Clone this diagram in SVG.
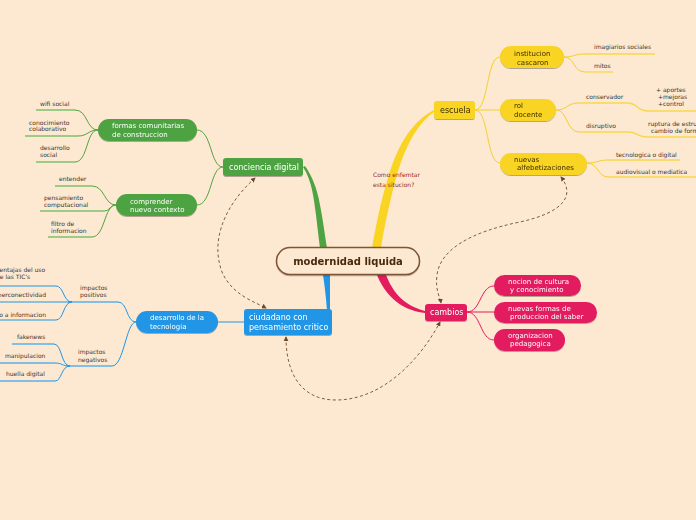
<svg xmlns="http://www.w3.org/2000/svg" width="696" height="520" viewBox="0 0 696 520">
<style>
text{font-family:"DejaVu Sans","Liberation Sans",sans-serif}
.leaf{font-size:6px;fill:#3a3430}
.pw{font-size:7px;fill:#ffffff}
.py{font-size:7px;fill:#3b2c05}
.nw{font-size:8px;fill:#ffffff}
.ny{font-size:8px;fill:#3b2c05}
.g{fill:none;stroke:#52a445;stroke-width:1}
.gl{fill:none;stroke:#7cc06a;stroke-width:1.5}
.b{fill:none;stroke:#2196e6;stroke-width:1}
.bl{fill:none;stroke:#5ab0ee;stroke-width:1.5}
.y{fill:none;stroke:#f6d02a;stroke-width:1}
.yl{fill:none;stroke:#f8d84a;stroke-width:1.3}
.p{fill:none;stroke:#e31b5f;stroke-width:1}
.dash{fill:none;stroke:#7d5e40;stroke-width:1;stroke-dasharray:3 2.5;marker-start:url(#ah);marker-end:url(#ah)}
.shadow{filter:url(#sh)}
</style>
<defs>
<filter id="sh" x="-10%" y="-20%" width="120%" height="150%">
<feDropShadow dx="0" dy="1" stdDeviation="0.7" flood-color="#000" flood-opacity="0.3"/>
</filter>
<marker id="ah" viewBox="0 0 6 6" refX="5" refY="3" markerWidth="5" markerHeight="5" orient="auto-start-reverse" markerUnits="userSpaceOnUse">
<path d="M0,0 L6,3 L0,6 Z" fill="#6b4a2c"/>
</marker>
</defs>
<rect x="0" y="0" width="696" height="520" fill="#fde8d1"/>

<g id="connectors">
<path d="M303,167 C312,180 314,200 316,215 C318,232 319,240 320,248 L327,248 C325,236 323,220 320,205 C317,188 312,176 305,166 Z" fill="#4ea342"/>
<path d="M372,248 C376,225 381,200 388,178 C396,150 410,122 434,110 L434,112 C414,126 402,155 395,182 C389,205 384,228 381,248 Z" fill="#f9d423"/>
<path d="M377,275 C384,292 398,310 425,313 L425,311 C402,305 392,290 386,275 Z" fill="#e31b5f"/>
<path d="M323,275 C325,288 326,298 327,310 L330,310 C330,298 330,288 330,275 Z" fill="#2196e6"/>

<path class="g" d="M223,167 C210,167 212,130 197,130"/>
<path class="g" d="M223,167 C210,167 212,205 197,205"/>
<path class="g" d="M98,130 C86,130 88,110 75,110"/>
<path class="gl" d="M75,110 L36,110"/>
<path class="g" d="M98,130 C88,130 88,136 78,136"/>
<path class="gl" d="M78,136 L25,136"/>
<path class="g" d="M98,130 C86,130 88,162 75,162"/>
<path class="gl" d="M75,162 L36,162"/>
<path class="g" d="M116,205 C104,205 105,186 92,186"/>
<path class="gl" d="M92,186 L55,186"/>
<path class="g" d="M116,205 C110,205 110,211 104,211"/>
<path class="gl" d="M104,211 L40,211"/>
<path class="g" d="M116,205 C104,205 105,237 92,237"/>
<path class="gl" d="M92,237 L48,237"/>

<path class="b" d="M218,322 L244,322"/>
<path class="b" d="M136,322 C126,322 128,302 118,302"/>
<path class="bl" d="M118,302 L68,302"/>
<path class="b" d="M136,322 C126,322 124,366 112,366"/>
<path class="bl" d="M112,366 L68,366"/>
<path class="b" d="M72,302 C63,302 64,286 56,286 L0,286"/>
<path class="b" d="M72,302 L0,302"/>
<path class="b" d="M72,302 C63,302 64,320 56,320 L0,320"/>
<path class="b" d="M70,366 C61,366 62,344 54,344"/>
<path class="bl" d="M54,344 L12,344"/>
<path class="b" d="M70,366 C62,366 62,363 55,363"/>
<path class="bl" d="M55,363 L0,363"/>
<path class="b" d="M70,366 C61,366 62,381 55,381"/>
<path class="bl" d="M55,381 L0,381"/>

<path class="y" d="M475,110 C489,110 486,57 500,57"/>
<path class="y" d="M475,110 L500,110"/>
<path class="y" d="M475,110 C489,110 486,163 500,163"/>
<path class="y" d="M564,57 C575,57 573,54 585,54"/>
<path class="yl" d="M585,54 L655,54"/>
<path class="y" d="M564,57 C575,57 573,72 585,72"/>
<path class="yl" d="M585,72 L613,72"/>
<path class="y" d="M556,110 C568,110 566,103 579,103"/>
<path class="yl" d="M579,103 L628,103 C638,103 636,111 648,111 L696,111"/>
<path class="y" d="M556,110 C568,110 566,132 579,132"/>
<path class="yl" d="M579,132 L628,132 C638,132 636,137 648,137 L696,137"/>
<path class="y" d="M587,163 C598,163 598,160 608,160"/>
<path class="yl" d="M608,160 L680,160"/>
<path class="y" d="M587,163 C598,163 598,177 608,177"/>
<path class="yl" d="M608,177 L696,177"/>

<path class="p" d="M467,312 C481,312 480,286 494,286"/>
<path class="p" d="M467,312 L494,312"/>
<path class="p" d="M467,312 C481,312 480,340 494,340"/>

<path class="dash" d="M255,178 C225,205 210,240 222,272 C232,295 255,302 266,308"/>
<path class="dash" d="M561,177 C575,195 565,212 520,222 C470,232 440,250 437,275 C435,290 440,297 441,303"/>
<path class="dash" d="M286,337 C286,372 300,400 336,400 C382,400 420,360 440,322"/>
</g>

<g id="center" class="shadow">
<rect x="276.5" y="247.5" width="143" height="27" rx="13.5" fill="#fde8d1" stroke="#7d5532" stroke-width="1.5"/>
<text x="348" y="264.5" text-anchor="middle" font-size="10" font-weight="bold" fill="#4a2c0e">modernidad liquida</text>
</g>

<g id="conciencia-digital" class="shadow">
<rect x="223" y="158" width="80" height="18" rx="3" fill="#4ea342"/>
<text class="nw" x="229" y="169.5">conciencia digital</text>
</g>
<g id="formas-comunitarias" class="shadow">
<rect x="98" y="119" width="99" height="22" rx="11" fill="#4ea342"/>
<text class="pw" x="112" y="128">formas comunitarias</text>
<text class="pw" x="112" y="136.5">de construccion</text>
</g>
<g id="comprender" class="shadow">
<rect x="116" y="194" width="81" height="22" rx="11" fill="#4ea342"/>
<text class="pw" x="130" y="204">comprender</text>
<text class="pw" x="130" y="212">nuevo contexto</text>
</g>
<g id="leaves-green">
<text class="leaf" x="40" y="105.5">wifi social</text>
<text class="leaf" x="29" y="124.5">conocimiento</text>
<text class="leaf" x="29" y="131">colaborativo</text>
<text class="leaf" x="40" y="150">desarrollo</text>
<text class="leaf" x="40" y="157">social</text>
<text class="leaf" x="59" y="181">entender</text>
<text class="leaf" x="44" y="199.5">pensamiento</text>
<text class="leaf" x="44" y="207">computacional</text>
<text class="leaf" x="51" y="225.5">filtro de</text>
<text class="leaf" x="51" y="233">informacion</text>
</g>

<g id="ciudadano" class="shadow">
<rect x="244" y="309" width="88" height="26" rx="3" fill="#2196e6"/>
<text class="nw" x="249" y="319.5">ciudadano con</text>
<text class="nw" x="249" y="329.5">pensamiento critico</text>
</g>
<g id="desarrollo-tecnologia" class="shadow">
<rect x="136" y="311" width="82" height="22" rx="11" fill="#2196e6"/>
<text class="pw" x="150" y="320">desarrollo de la</text>
<text class="pw" x="150" y="328.5">tecnologia</text>
</g>
<g id="leaves-blue">
<text class="leaf" x="80" y="290">impactos</text>
<text class="leaf" x="80" y="297">positivos</text>
<text class="leaf" x="78" y="354">impactos</text>
<text class="leaf" x="78" y="361.5">negativos</text>
<text class="leaf" x="-4" y="271.5">ventajas del uso</text>
<text class="leaf" x="-4" y="279">de las TIC's</text>
<text class="leaf" x="46" y="297" text-anchor="end">hiperconectividad</text>
<text class="leaf" x="46" y="316.5" text-anchor="end">acceso a informacion</text>
<text class="leaf" x="17" y="339">fakenews</text>
<text class="leaf" x="5" y="358">manipulacion</text>
<text class="leaf" x="6" y="375.5">huella digital</text>
</g>

<g id="escuela" class="shadow">
<rect x="434" y="101" width="41" height="18" rx="3" fill="#f9d423"/>
<text class="ny" x="440" y="113">escuela</text>
</g>
<g id="institucion" class="shadow">
<rect x="500" y="46" width="64" height="22" rx="11" fill="#f9d423"/>
<text class="py" x="514" y="55.5">institucion</text>
<text class="py" x="517" y="64.5">cascaron</text>
</g>
<g id="rol-docente" class="shadow">
<rect x="500" y="99" width="56" height="22" rx="11" fill="#f9d423"/>
<text class="py" x="514" y="108">rol</text>
<text class="py" x="514" y="117">docente</text>
</g>
<g id="nuevas-alfabetizaciones" class="shadow">
<rect x="500" y="153" width="87" height="22" rx="11" fill="#f9d423"/>
<text class="py" x="514" y="162">nuevas</text>
<text class="py" x="517" y="170">alfebetizaciones</text>
</g>
<g id="leaves-yellow">
<text class="leaf" x="594" y="49">imagiarios sociales</text>
<text class="leaf" x="594" y="68">mitos</text>
<text class="leaf" x="586" y="99">conservador</text>
<text class="leaf" x="656" y="91.5">+ aportes</text>
<text class="leaf" x="658" y="99">+mejoras</text>
<text class="leaf" x="658" y="106">+control</text>
<text class="leaf" x="586" y="128">disruptivo</text>
<text class="leaf" x="648" y="125.5">ruptura de estru</text>
<text class="leaf" x="651" y="132.5">cambio de form</text>
<text class="leaf" x="616" y="156.5">tecnologica o digital</text>
<text class="leaf" x="616" y="174">audiovisual o mediatica</text>
</g>

<g id="cambios" class="shadow">
<rect x="425" y="304" width="42" height="17" rx="3" fill="#e31b5f"/>
<text class="nw" x="430" y="315">cambios</text>
</g>
<g id="nocion" class="shadow">
<rect x="494" y="275" width="87" height="21" rx="10.5" fill="#e31b5f"/>
<text class="pw" x="508" y="284">nocion de cultura</text>
<text class="pw" x="510" y="291.5">y conocimiento</text>
</g>
<g id="nuevas-formas" class="shadow">
<rect x="494" y="302" width="103" height="21" rx="10.5" fill="#e31b5f"/>
<text class="pw" x="508" y="310.5">nuevas formas de</text>
<text class="pw" x="510" y="318.5">produccion del saber</text>
</g>
<g id="organizacion" class="shadow">
<rect x="494" y="329" width="71" height="22" rx="11" fill="#e31b5f"/>
<text class="pw" x="508" y="338">organizacion</text>
<text class="pw" x="510" y="345.5">pedagogica</text>
</g>

<g id="label">
<text x="373" y="177" font-size="6" fill="#9a2c22">Como enfemtar</text>
<text x="373" y="186.5" font-size="6" fill="#9a2c22">esta situcion?</text>
</g>
</svg>
